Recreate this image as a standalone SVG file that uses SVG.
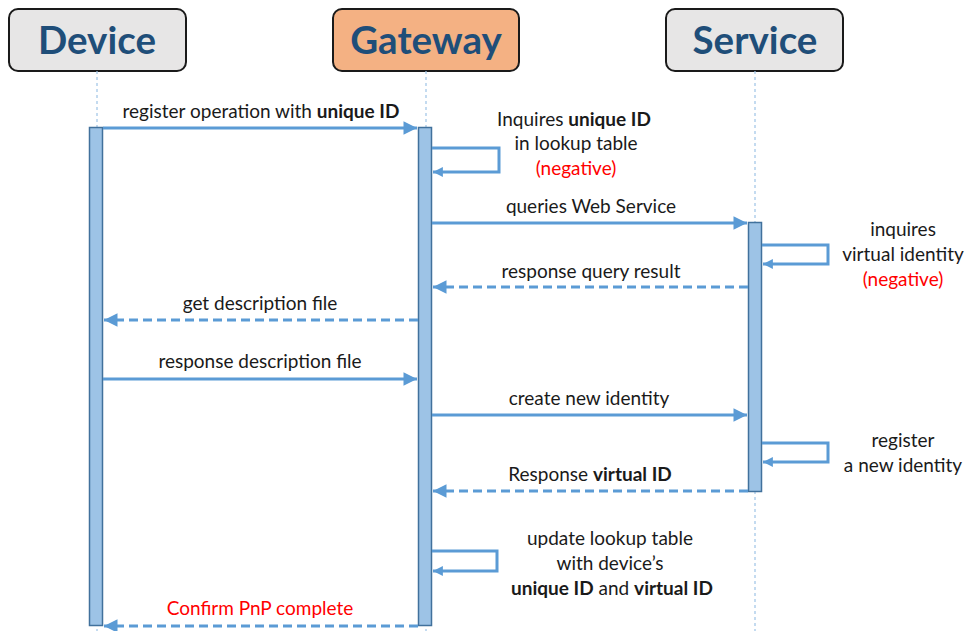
<svg xmlns="http://www.w3.org/2000/svg" width="969" height="631" viewBox="0 0 969 631">
<style>
.box{stroke:#1a1a1a;stroke-width:2}
.title{font-family:Lato,"Open Sans",sans-serif;font-weight:bold;font-size:38.5px;fill:#1F4E79;text-anchor:middle}
.life{stroke:#9DC3E6;stroke-width:1.2;stroke-dasharray:3 3;fill:none}
.bar{fill:#9DC3E6;stroke:#41719C;stroke-width:1.5}
.msg{stroke:#5B9BD5;stroke-width:3;fill:none}
.dash{stroke-dasharray:9 5}
.lbl{font-family:Lato,"Open Sans",sans-serif;font-size:19px;fill:#1a1a1a;text-anchor:middle}
.red{fill:#FF0000}
.b{font-weight:bold}
</style>
<defs>
<marker id="ah" viewBox="0 0 10 10" refX="10" refY="5" markerWidth="5" markerHeight="4.5" orient="auto" markerUnits="strokeWidth"><path d="M0,0L10,5L0,10z" fill="#5B9BD5"/></marker>
<marker id="ahs" viewBox="0 0 10 10" refX="10" refY="5" markerWidth="3.5" markerHeight="3.3" orient="auto" markerUnits="strokeWidth"><path d="M0,0L10,5L0,10z" fill="#5B9BD5"/></marker>
</defs>
<rect width="969" height="631" fill="#fff"/>
<g id="device">
<rect class="box" x="9" y="9" width="177" height="62" rx="9" fill="#E7E6E6"/>
<text class="title" x="97" y="54">Device</text>
<line class="life" x1="97" y1="71" x2="97" y2="631"/>
<rect class="bar" x="89.5" y="127.5" width="13" height="498"/>
</g>
<g id="gateway">
<rect class="box" x="333" y="9" width="186" height="62" rx="9" fill="#F4B183"/>
<text class="title" x="426" y="54">Gateway</text>
<line class="life" x1="426" y1="71" x2="426" y2="631"/>
<rect class="bar" x="418.5" y="127.5" width="13" height="498"/>
</g>
<g id="service">
<rect class="box" x="666" y="9" width="177" height="62" rx="9" fill="#E7E6E6"/>
<text class="title" x="755" y="54">Service</text>
<line class="life" x1="755" y1="71" x2="755" y2="631"/>
<rect class="bar" x="748.5" y="222.5" width="13" height="269"/>
</g>
<g id="connectors">
<line class="msg" x1="103" y1="128" x2="417" y2="128" marker-end="url(#ah)"/>
<path class="msg" d="M432,148H499V172H433" marker-end="url(#ahs)"/>
<line class="msg" x1="432" y1="223" x2="747" y2="223" marker-end="url(#ah)"/>
<path class="msg" d="M762,245H828V264H763" marker-end="url(#ahs)"/>
<line class="msg dash" x1="748" y1="287" x2="433" y2="287" marker-end="url(#ah)"/>
<line class="msg dash" x1="418" y1="320" x2="104" y2="320" marker-end="url(#ah)"/>
<line class="msg" x1="103" y1="379" x2="417" y2="379" marker-end="url(#ah)"/>
<line class="msg" x1="432" y1="415" x2="747" y2="415" marker-end="url(#ah)"/>
<path class="msg" d="M762,443H828V462H763" marker-end="url(#ahs)"/>
<line class="msg dash" x1="748" y1="491" x2="433" y2="491" marker-end="url(#ah)"/>
<path class="msg" d="M432,551H497V571H433" marker-end="url(#ahs)"/>
<line class="msg dash" x1="418" y1="626" x2="104" y2="626" marker-end="url(#ah)"/>
</g>
<g id="labels">
<text class="lbl" x="261" y="118">register operation with <tspan class="b">unique ID</tspan></text>
<text class="lbl" x="574" y="126">Inquires <tspan class="b">unique ID</tspan></text>
<text class="lbl" x="576" y="150">in lookup table</text>
<text class="lbl red" x="576" y="175">(negative)</text>
<text class="lbl" x="591" y="213">queries Web Service</text>
<text class="lbl" x="903" y="236">inquires</text>
<text class="lbl" x="903" y="261">virtual identity</text>
<text class="lbl red" x="903" y="286">(negative)</text>
<text class="lbl" x="591" y="278">response query result</text>
<text class="lbl" x="260" y="310">get description file</text>
<text class="lbl" x="260" y="368">response description file</text>
<text class="lbl" x="589" y="405">create new identity</text>
<text class="lbl" x="903" y="447">register</text>
<text class="lbl" x="903" y="472">a new identity</text>
<text class="lbl" x="590" y="481">Response <tspan class="b">virtual ID</tspan></text>
<text class="lbl" x="610" y="545">update lookup table</text>
<text class="lbl" x="610" y="570">with device’s</text>
<text class="lbl" x="612" y="595"><tspan class="b">unique ID</tspan> and <tspan class="b">virtual ID</tspan></text>
<text class="lbl red" x="260" y="615">Confirm PnP complete</text>
</g>
</svg>
